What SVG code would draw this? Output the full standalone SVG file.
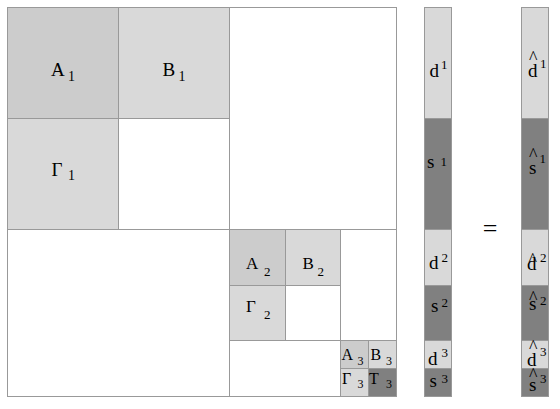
<svg xmlns="http://www.w3.org/2000/svg" width="560" height="409" viewBox="0 0 560 409">
<style>
.w,.a,.l,.k{stroke:#999;stroke-width:1}
.w{fill:#fff}
.a{fill:#ccc}
.l{fill:#d9d9d9}
.k{fill:#808080}
text{font-family:"Liberation Serif","Times New Roman",serif;fill:#000}
.t1{font-size:19px}
.t2{font-size:17px}
.t3{font-size:16px}
.s1{font-size:14px}
.s2{font-size:13px}
.s3{font-size:12px}
.v{font-size:13px}
.h{font-size:18px}
</style>
<rect width="560" height="409" fill="#fff"/>
<g id="matrix">
<rect class="w" x="7.5" y="7.5" width="389" height="389"/>
<rect class="w" x="229.5" y="7.5" width="167" height="222"/>
<rect class="w" x="7.5" y="229.5" width="222" height="167"/>
<rect class="w" x="229.5" y="229.5" width="167" height="167"/>
<rect class="w" x="118.5" y="118.5" width="111" height="111"/>
<rect class="w" x="340.5" y="229.5" width="56" height="111"/>
<rect class="w" x="229.5" y="340.5" width="111" height="56"/>
<rect class="w" x="285.5" y="285.5" width="55" height="55"/>
</g>
<g id="A1"><rect class="a" x="7.5" y="7.5" width="111" height="111"/><text class="t1" x="51" y="75.5">A<tspan class="s1" x="68" y="80.5">1</tspan></text></g>
<g id="B1"><rect class="l" x="118.5" y="7.5" width="111" height="111"/><text class="t1" x="162.5" y="75.5">B<tspan class="s1" x="178.5" y="80.5">1</tspan></text></g>
<g id="G1"><rect class="l" x="7.5" y="118.5" width="111" height="111"/><text class="t1" x="51.5" y="175.5">Γ<tspan class="s1" x="68" y="180">1</tspan></text></g>
<g id="A2"><rect class="a" x="229.5" y="229.5" width="56" height="56"/><text class="t2" x="246" y="268.5">A<tspan class="s2" x="264" y="275.5">2</tspan></text></g>
<g id="B2"><rect class="l" x="285.5" y="229.5" width="55" height="56"/><text class="t2" x="302.5" y="268.5">B<tspan class="s2" x="317.5" y="275.5">2</tspan></text></g>
<g id="G2"><rect class="l" x="229.5" y="285.5" width="56" height="55"/><text class="t2" x="246" y="312">Γ<tspan class="s2" x="264" y="318.5">2</tspan></text></g>
<g id="A3"><rect class="a" x="340.5" y="340.5" width="28" height="28"/><text class="t3" x="341.5" y="360">A<tspan class="s3" x="357.5" y="364.5">3</tspan></text></g>
<g id="B3"><rect class="l" x="368.5" y="340.5" width="28" height="28"/><text class="t3" x="370.5" y="360">B<tspan class="s3" x="386" y="364.5">3</tspan></text></g>
<g id="G3"><rect class="l" x="340.5" y="368.5" width="28" height="28"/><text class="t3" x="342" y="384">Γ<tspan class="s3" x="357.5" y="388">3</tspan></text></g>
<g id="T3"><rect class="k" x="368.5" y="368.5" width="28" height="28"/><text class="t3" x="369" y="384">T<tspan class="s3" x="386" y="388">3</tspan></text></g>
<g id="d1"><rect class="l" x="424.5" y="7.5" width="27" height="111"/><text class="t1" x="429.5" y="77">d<tspan class="v" x="441" y="68.5">1</tspan></text></g>
<g id="s1"><rect class="k" x="424.5" y="118.5" width="27" height="111"/><text class="t1" x="427" y="168">s<tspan class="v" x="440.5" y="165.5">1</tspan></text></g>
<g id="d2"><rect class="l" x="424.5" y="229.5" width="27" height="56"/><text class="t1" x="429" y="268.5">d<tspan class="v" x="441.5" y="261.5">2</tspan></text></g>
<g id="s2"><rect class="k" x="424.5" y="285.5" width="27" height="55"/><text class="t1" x="431" y="311.5">s<tspan class="v" x="441.5" y="307">2</tspan></text></g>
<g id="d3"><rect class="l" x="424.5" y="340.5" width="27" height="28"/><text class="t1" x="428" y="365">d<tspan class="v" x="441.5" y="356.5">3</tspan></text></g>
<g id="s3"><rect class="k" x="424.5" y="368.5" width="27" height="28"/><text class="t1" x="429.5" y="386.5">s<tspan class="v" x="441.5" y="382.5">3</tspan></text></g>
<g id="eq"><text x="490" y="237" style="font-size:26px;text-anchor:middle">=</text></g>
<g id="dh1"><rect class="l" x="521.5" y="7.5" width="27" height="111"/><text class="t1"><tspan class="h" x="529" y="64">^</tspan><tspan x="528" y="77">d</tspan><tspan class="v" x="540" y="68">1</tspan></text></g>
<g id="sh1"><rect class="k" x="521.5" y="118.5" width="27" height="111"/><text class="t1"><tspan class="h" x="529" y="161">^</tspan><tspan x="529" y="173.5">s</tspan><tspan class="v" x="539.5" y="163">1</tspan></text></g>
<g id="dh2"><rect class="l" x="521.5" y="229.5" width="27" height="56"/><text class="t1"><tspan class="h" x="528.5" y="265.5">^</tspan><tspan x="527" y="270">d</tspan><tspan class="v" x="540" y="261.5">2</tspan></text></g>
<g id="sh2"><rect class="k" x="521.5" y="285.5" width="27" height="55"/><text class="t1"><tspan class="h" x="529" y="304">^</tspan><tspan x="529" y="310">s</tspan><tspan class="v" x="540" y="305">2</tspan></text></g>
<g id="dh3"><rect class="l" x="521.5" y="340.5" width="27" height="28"/><text class="t1"><tspan class="h" x="529" y="353">^</tspan><tspan x="527" y="366">d</tspan><tspan class="v" x="540" y="356">3</tspan></text></g>
<g id="sh3"><rect class="k" x="521.5" y="368.5" width="27" height="28"/><text class="t1"><tspan class="h" x="529" y="381">^</tspan><tspan x="529" y="391">s</tspan><tspan class="v" x="540" y="383">3</tspan></text></g>
</svg>
